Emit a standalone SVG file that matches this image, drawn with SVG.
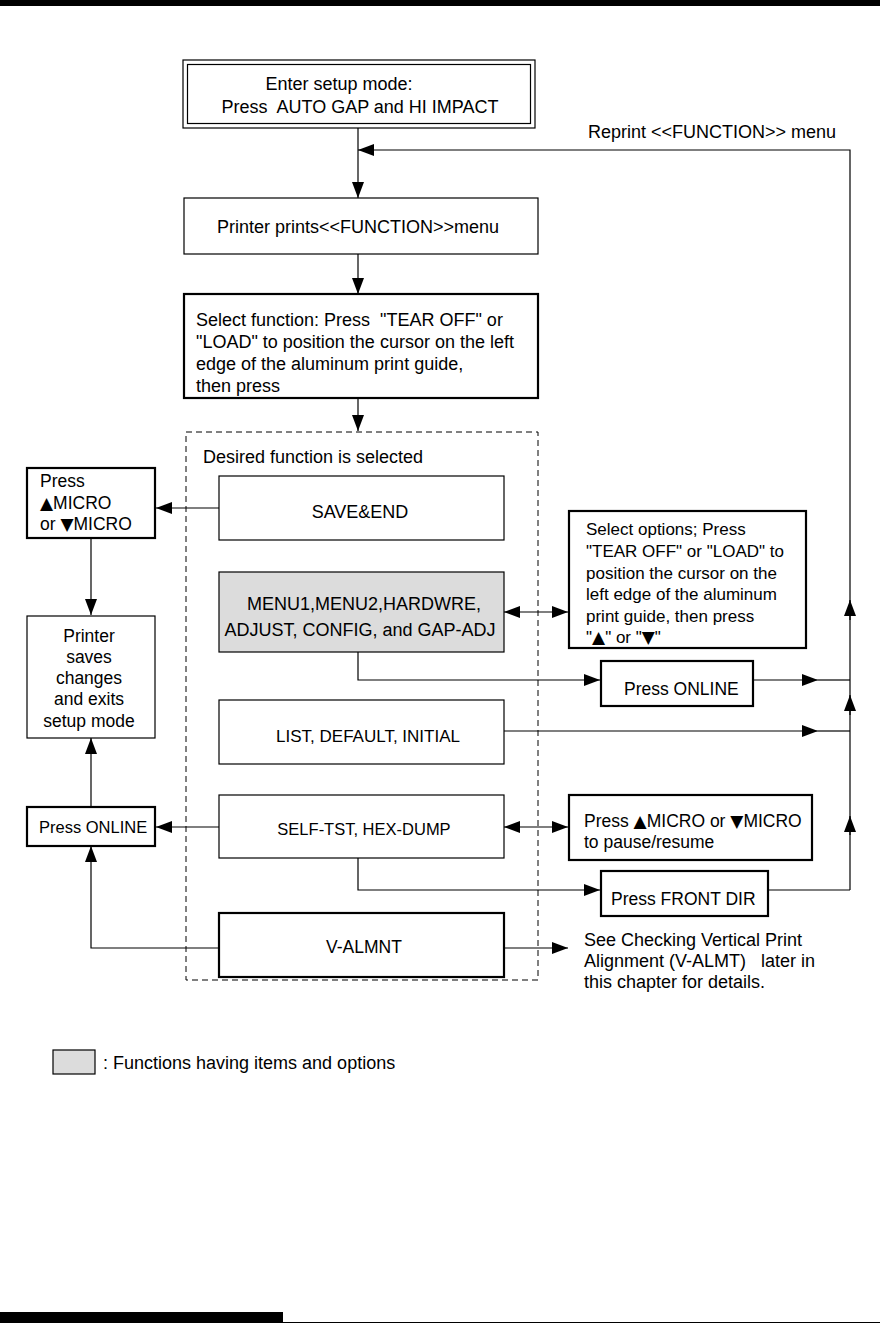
<svg xmlns="http://www.w3.org/2000/svg" width="880" height="1324" viewBox="0 0 880 1324">
<defs>
<style>
text{font-family:"Liberation Sans",Arial,sans-serif;font-size:17.5px;fill:#000}
.L{font-size:18px}
.S{font-size:17px}
.XS{font-size:16.5px}
.tri{font-family:"DejaVu Sans",sans-serif;font-size:17px}
.m{text-anchor:middle}
.b{fill:#fff;stroke:#000;stroke-width:1.2}
.t{fill:#fff;stroke:#000;stroke-width:2.2}
.g{fill:#dcdcdc;stroke:#000;stroke-width:1.2}
.c{fill:none;stroke:#000;stroke-width:1.2}
</style>
<marker id="ah" markerUnits="userSpaceOnUse" markerWidth="16" markerHeight="12" refX="16" refY="6" orient="auto">
<path d="M0,0 L16,6 L0,12 Z" fill="#000"/>
</marker>
<marker id="as" markerUnits="userSpaceOnUse" markerWidth="16" markerHeight="12" refX="0" refY="6" orient="auto">
<path d="M16,0 L0,6 L16,12 Z" fill="#000"/>
</marker>
</defs>
<rect x="0" y="0" width="880" height="6" fill="#000"/>
<rect x="0" y="1312" width="283" height="11" fill="#000"/>
<line x1="283" y1="1322.5" x2="880" y2="1322.5" stroke="#000" stroke-width="1"/>

<g id="connectors">
<line class="c" x1="358" y1="128" x2="358" y2="198" marker-end="url(#ah)"/>
<polyline class="c" points="850,600 850,150 358,150" marker-end="url(#ah)"/>
<line class="c" x1="358" y1="254" x2="358" y2="294" marker-end="url(#ah)"/>
<line class="c" x1="358" y1="398" x2="358" y2="431" marker-end="url(#ah)"/>
<line class="c" x1="219" y1="508" x2="156" y2="508" marker-end="url(#ah)"/>
<line class="c" x1="91" y1="538" x2="91" y2="605" stroke-width="2"/>
<line class="c" x1="91" y1="600" x2="91" y2="615" marker-end="url(#ah)"/>
<line class="c" x1="504" y1="612" x2="568" y2="612" marker-start="url(#as)" marker-end="url(#ah)"/>
<polyline class="c" points="358,652 358,680 600,680" marker-end="url(#ah)"/>
<line class="c" x1="753" y1="680" x2="818" y2="680" marker-end="url(#ah)"/>
<line class="c" x1="818" y1="680" x2="850" y2="680"/>
<line class="c" x1="850" y1="620" x2="850" y2="600" marker-end="url(#ah)"/>
<line class="c" x1="504" y1="731" x2="818" y2="731" stroke-width="2" marker-end="url(#ah)"/>
<line class="c" x1="818" y1="731" x2="850" y2="731"/>
<line class="c" x1="850" y1="890" x2="850" y2="600"/>
<line class="c" x1="850" y1="715" x2="850" y2="695" marker-end="url(#ah)"/>
<line class="c" x1="850" y1="835" x2="850" y2="816" marker-end="url(#ah)"/>
<line class="c" x1="219" y1="827" x2="156" y2="827" marker-end="url(#ah)"/>
<line class="c" x1="504" y1="827" x2="568" y2="827" marker-start="url(#as)" marker-end="url(#ah)"/>
<polyline class="c" points="358,858 358,890 600,890" marker-end="url(#ah)"/>
<line class="c" x1="768" y1="890" x2="850" y2="890"/>
<line class="c" x1="91" y1="807" x2="91" y2="738" stroke-width="2" marker-end="url(#ah)"/>
<polyline class="c" points="219,948 91,948 91,846" marker-end="url(#ah)"/>
<line class="c" x1="504" y1="948" x2="568" y2="948" marker-end="url(#ah)"/>
</g>

<g id="enter">
<rect class="b" x="183" y="60" width="352" height="68" stroke-width="2"/>
<rect class="b" x="187.5" y="64.5" width="343" height="59" stroke-width="1.4"/>
<text class="m L" x="339" y="90">Enter setup mode:</text>
<text class="m L" x="360" y="113">Press&#160; AUTO GAP and HI IMPACT</text>
</g>
<text id="reprint" class="L" x="588" y="138">Reprint &lt;&lt;FUNCTION&gt;&gt; menu</text>

<g id="prints">
<rect class="b" x="184" y="198" width="354" height="56"/>
<text class="m L" x="358" y="233">Printer prints&lt;&lt;FUNCTION&gt;&gt;menu</text>
</g>

<g id="select">
<rect class="t" x="184" y="294" width="354" height="104"/>
<text class="L" x="196" y="326">Select function: Press&#160; "TEAR OFF" or</text>
<text class="L" x="196" y="348">"LOAD" to position the cursor on the left</text>
<text class="L" x="196" y="370">edge of the aluminum print guide,</text>
<text class="L" x="196" y="392">then press</text>
</g>

<g id="desired">
<rect x="186" y="432" width="352" height="548" fill="none" stroke="#000" stroke-width="1" stroke-dasharray="6,4"/>
<text class="L" x="203" y="463">Desired function is selected</text>
</g>

<g id="saveend">
<rect class="b" x="219" y="476" width="285" height="64"/>
<text class="m L" x="360" y="518">SAVE&amp;END</text>
</g>

<g id="pressmicro">
<rect class="t" x="27" y="468" width="128" height="70"/>
<text x="40" y="487">Press</text>
<text x="40" y="509"><tspan class="tri">▲</tspan>MICRO</text>
<text x="40" y="530">or <tspan class="tri">▼</tspan>MICRO</text>
</g>

<g id="saves">
<rect class="b" x="27" y="616" width="128" height="122"/>
<text class="m" x="89" y="642">Printer</text>
<text class="m" x="89" y="663">saves</text>
<text class="m" x="89" y="684">changes</text>
<text class="m" x="89" y="705">and exits</text>
<text class="m" x="89" y="727">setup mode</text>
</g>

<g id="menu">
<rect class="g" x="219" y="572" width="285" height="80"/>
<text class="m L" x="364" y="610">MENU1,MENU2,HARDWRE,</text>
<text class="m L" x="360" y="636">ADJUST, CONFIG, and GAP-ADJ</text>
</g>

<g id="options">
<rect class="t" x="569" y="511" width="237" height="137"/>
<text class="S" x="586" y="535">Select options; Press</text>
<text class="S" x="586" y="557">"TEAR OFF" or "LOAD" to</text>
<text class="S" x="586" y="579">position the cursor on the</text>
<text class="S" x="586" y="600">left edge of the aluminum</text>
<text class="S" x="586" y="622">print guide, then press</text>
<text class="S" x="586" y="643">"<tspan class="tri">▲</tspan>" or "<tspan class="tri">▼</tspan>"</text>
</g>

<g id="online1">
<rect class="t" x="601" y="661" width="152" height="45"/>
<text x="624" y="695">Press ONLINE</text>
</g>

<g id="list">
<rect class="b" x="219" y="700" width="285" height="64"/>
<text class="m S" x="368" y="742">LIST, DEFAULT, INITIAL</text>
</g>

<g id="selftst">
<rect class="b" x="219" y="795" width="285" height="63"/>
<text class="m XS" x="364" y="835">SELF-TST, HEX-DUMP</text>
</g>

<g id="online2">
<rect class="t" x="27" y="807" width="128" height="39"/>
<text class="XS" x="39" y="833">Press ONLINE</text>
</g>

<g id="pause">
<rect class="t" x="569" y="795" width="243" height="65"/>
<text x="584" y="827">Press <tspan class="tri">▲</tspan>MICRO or <tspan class="tri">▼</tspan>MICRO</text>
<text x="584" y="848">to pause/resume</text>
</g>

<g id="frontdir">
<rect class="t" x="601" y="871" width="167" height="45"/>
<text x="611" y="905">Press FRONT DIR</text>
</g>

<g id="valmnt">
<rect class="t" x="219" y="913" width="285" height="64" stroke-width="1.6"/>
<text class="m" x="364" y="953">V-ALMNT</text>
</g>

<g id="see">
<text class="L" x="584" y="946">See Checking Vertical Print</text>
<text class="L" x="584" y="967">Alignment (V-ALMT)&#160;&#160; later in</text>
<text class="L" x="584" y="988">this chapter for details.</text>
</g>

<g id="legend">
<rect class="g" x="53" y="1050" width="42" height="24"/>
<text class="L" x="103" y="1069">: Functions having items and options</text>
</g>
</svg>
